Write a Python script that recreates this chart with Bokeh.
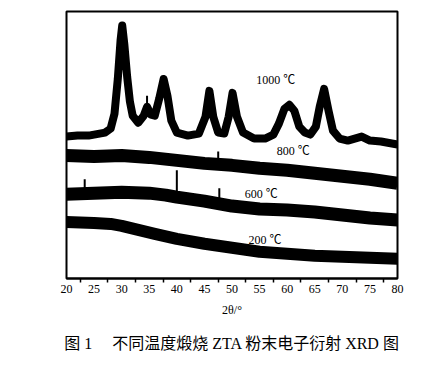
from bokeh.plotting import figure
from bokeh.models import FixedTicker, Range1d, Label, Title
from bokeh.embed import file_html
from bokeh.resources import INLINE

# ---- data (2θ in degrees, intensity in arbitrary offset units) ----
tt_1000 = [20, 22, 24, 26, 27, 28, 28.7, 29.3, 29.8, 30.1, 30.5, 31, 31.5, 32, 33, 34, 34.6,
           35.3, 36, 36.8, 37.6, 38.3, 39, 40, 42, 44, 45.2, 45.9, 46.6, 47.5, 48.6, 49.4,
           50.1, 50.9, 52, 54, 56, 57.5, 58.5, 59.5, 60.4, 61.3, 62.2, 63.2, 64.2, 65.2,
           65.9, 66.7, 67.5, 68.3, 69.5, 71, 73.5, 75, 77, 80]
int_1000 = [143, 144, 144, 146, 147, 151, 166, 201, 240, 255, 235, 203, 178, 164, 157, 164, 173,
            165, 164, 181, 201, 184, 159, 147, 144, 146, 163, 189, 163, 147, 146, 163,
            187, 163, 147, 141, 141, 145, 156, 171, 175, 169, 153, 147, 145, 153,
            173, 191, 169, 149, 141, 139, 143, 139, 138, 135]

tt_800 = [20, 25, 30, 35, 40, 45, 50, 55, 60, 65, 70, 75, 80]
int_800 = [124, 123, 124, 122, 119, 116, 114, 111, 109, 106, 103, 100, 96]

tt_600 = [20, 25, 30, 35, 38, 40, 45, 50, 55, 60, 65, 70, 75, 80]
int_600 = [85, 86, 87, 86, 84, 82, 78, 73, 70, 69, 67, 64, 61, 59]

tt_200 = [20, 25, 28, 30, 33, 36, 40, 45, 50, 55, 60, 65, 70, 75, 80]
int_200 = [57, 56, 55, 53, 49, 45, 40, 35, 31, 27, 25, 23, 22, 21, 20]

# prominent sharp spikes
spike_x = [34.6, 40.0, 47.7, 47.5, 23.3]
spike_y0 = [165, 82, 78, 116, 86]
spike_y1 = [184, 109, 91, 128, 100]

curve_labels = ["1000 ℃", "800 ℃", "600 ℃", "200 ℃"]
label_x = [54.4, 58.1, 52.3, 53.0]
label_y = [200, 128, 85, 39]

x_ticks = [20, 25, 30, 35, 40, 45, 50, 55, 60, 65, 70, 75, 80]
x_minor = [22.5, 27.5, 32.5, 37.5, 42.5, 47.5, 52.5, 57.5, 62.5, 67.5, 72.5, 77.5]

caption = "图 1\u3000 不同温度煅烧 ZTA 粉末电子衍射 XRD 图"

SERIF = "Liberation Serif, Noto Sans CJK SC"

p = figure(width=436, height=364, x_range=Range1d(20, 80), y_range=Range1d(0, 269),
           output_backend="svg", toolbar_location=None, y_axis_location=None,
           min_border_left=66, min_border_right=39, min_border_top=11, min_border_bottom=84)
p.grid.visible = False
p.outline_line_color = "black"
p.outline_line_width = 2
p.background_fill_color = "white"
p.border_fill_color = "white"

xa = p.xaxis[0]
xa.ticker = FixedTicker(ticks=x_ticks, minor_ticks=x_minor)
xa.major_tick_out = 0
xa.major_tick_in = 0
xa.minor_tick_out = 4
xa.minor_tick_in = 0
xa.minor_tick_line_width = 1.5
xa.minor_tick_line_color = "black"
xa.axis_line_width = 2
xa.axis_line_color = "black"
xa.major_label_text_font = SERIF
xa.major_label_text_font_size = "12px"
xa.major_label_text_color = "black"
xa.major_label_standoff = 2
xa.axis_label = "2θ/°"
xa.axis_label_text_font = SERIF
xa.axis_label_text_font_size = "12px"
xa.axis_label_text_font_style = "normal"
xa.axis_label_text_color = "black"
xa.axis_label_standoff = 7

p.line(tt_200, int_200, line_color="black", line_width=12, line_join="round")
p.line(tt_600, int_600, line_color="black", line_width=13, line_join="round")
p.line(tt_800, int_800, line_color="black", line_width=13, line_join="round")
p.line(tt_1000, int_1000, line_color="black", line_width=8, line_join="round")
p.segment(x0=spike_x, y0=spike_y0, x1=spike_x, y1=spike_y1, line_color="black", line_width=2)

for t, lx, ly in zip(curve_labels, label_x, label_y):
    p.add_layout(Label(x=lx, y=ly, text=t, text_font=SERIF, text_font_size="12px",
                       text_baseline="middle", text_align="left", text_color="black"))

p.add_layout(Title(text=caption, align="center", text_font=SERIF, text_font_size="16px",
                   text_font_style="normal", text_color="black", standoff=26), "below")

open("out.html", "w").write(file_html(p, INLINE))
